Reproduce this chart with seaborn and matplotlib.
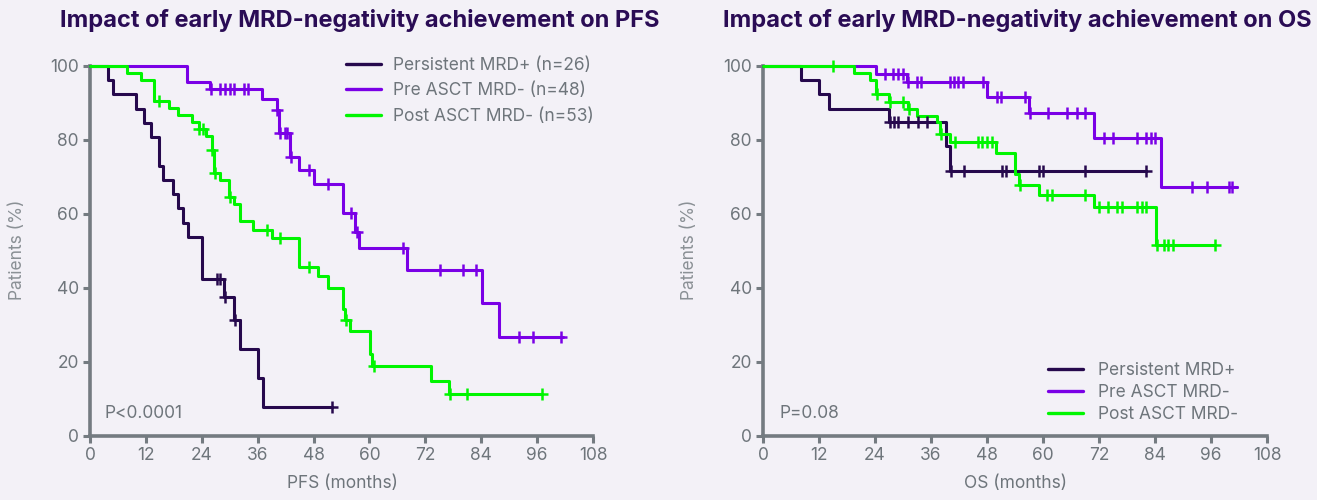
import numpy as np
import pandas as pd
import matplotlib
matplotlib.use("Agg")
import matplotlib.pyplot as plt
from matplotlib.lines import Line2D
import seaborn as sns

# ---------------- data ----------------
groups = ["Persistent MRD+", "Pre ASCT MRD-", "Post ASCT MRD-"]
pfs_legend = ["Persistent MRD+ (n=26)", "Pre ASCT MRD- (n=48)", "Post ASCT MRD- (n=53)"]

# PFS
pfs_dark_t = [0, 3.9, 4.9, 9.9, 11.7, 13.0, 14.9, 15.7, 17.9, 19.0, 20.0, 21.0, 24.1, 28.7, 30.9, 32.1, 36.0, 37.1, 52.0]
pfs_dark_s = [100, 96.2, 92.3, 88.5, 84.6, 80.8, 73.1, 69.2, 65.4, 61.5, 57.7, 53.8, 42.3, 37.6, 31.3, 23.5, 15.7, 7.8, 7.8]
pfs_dark_c = [27.2, 27.9, 28.9, 31.1, 52.0]

pfs_purple_t = [0, 20.9, 25.8, 36.9, 40.1, 40.5, 42.9, 44.9, 48.0, 54.3, 57.0, 57.8, 68.1, 84.1, 87.9, 101.5]
pfs_purple_s = [100, 95.8, 93.8, 91.0, 88.1, 82.0, 75.5, 71.9, 68.0, 60.2, 55.2, 50.9, 45.0, 35.9, 26.8, 26.8]
pfs_purple_c = [26.0, 27.9, 29.0, 30.1, 30.9, 33.1, 33.9, 40.2, 40.8, 41.9, 42.3, 43.1, 47.1, 51.2, 56.0,
                57.3, 67.1, 75.2, 80.0, 82.9, 92.1, 95.1, 101.1]

pfs_green_t = [0, 8.0, 11.0, 13.8, 17.0, 19.0, 21.8, 23.3, 25.0, 26.2, 26.7, 27.9, 29.8, 31.0, 32.2, 35.1, 39.0,
               44.9, 49.0, 51.0, 54.4, 54.8, 55.8, 60.1, 60.6, 73.2, 77.1, 97.0]
pfs_green_s = [100, 98.1, 96.2, 90.6, 88.7, 86.8, 84.9, 83.0, 81.1, 77.2, 71.0, 69.2, 64.7, 62.7, 58.2, 55.7, 53.4,
               45.8, 43.2, 39.9, 34.2, 31.4, 28.5, 22.2, 18.9, 14.9, 11.4, 11.4]
pfs_green_c = [14.9, 23.5, 24.2, 26.3, 26.8, 30.0, 37.9, 40.8, 47.0, 55.0, 61.0, 77.3, 81.0, 97.0]

# OS
os_dark_t = [0, 8.1, 12.1, 14.1, 27.1, 39.2, 40.1, 82.0]
os_dark_s = [100, 96.2, 92.3, 88.5, 84.9, 78.5, 71.7, 71.7]
os_dark_c = [27.3, 28.1, 29.0, 31.1, 33.2, 35.1, 40.3, 43.1, 51.2, 52.0, 59.2, 59.9, 69.1, 82.0]

os_purple_t = [0, 24.2, 30.8, 48.1, 57.1, 71.0, 85.2, 101.5]
os_purple_s = [100, 97.9, 95.8, 91.7, 87.2, 80.6, 67.2, 67.2]
os_purple_c = [26.1, 27.9, 28.9, 30.1, 31.0, 32.9, 33.8, 40.1, 40.9, 41.8, 42.9, 47.2, 50.1, 50.9, 56.1, 57.3,
               61.1, 65.2, 67.2, 69.1, 73.1, 75.1, 80.1, 82.0, 83.1, 84.0, 92.0, 95.1, 99.9, 100.6]

os_green_t = [0, 19.4, 22.9, 24.2, 27.1, 31.0, 32.9, 37.2, 37.9, 40.1, 49.9, 54.1, 54.9, 59.1, 70.9, 84.2, 96.9]
os_green_s = [100, 98.1, 96.2, 92.5, 90.4, 88.3, 86.6, 84.9, 81.5, 79.4, 76.6, 70.8, 67.8, 65.1, 61.8, 51.6, 51.6]
os_green_c = [15.1, 24.4, 27.3, 30.0, 31.2, 38.1, 41.1, 46.1, 47.0, 47.9, 49.0, 55.1, 60.9, 62.0, 69.1, 72.1,
              74.0, 75.9, 77.0, 80.1, 81.2, 82.0, 84.4, 85.9, 86.8, 87.9, 96.9]

x_ticks = [0, 12, 24, 36, 48, 60, 72, 84, 96, 108]
y_ticks = [0, 20, 40, 60, 80, 100]

# ---------------- style ----------------
BG = "#f3f1f7"
DARK = "#26094d"
PURPLE = "#7a00e6"
GREEN = "#00f500"
AX = "#747b81"
TXT = "#6e757b"
colors = [DARK, PURPLE, GREEN]

sns.set_theme(style="white")
plt.rcParams["font.family"] = ["Inter", "DejaVu Sans"]

fig = plt.figure(figsize=(13.17, 5), dpi=100, facecolor=BG)
W, H = 1317, 500
ax1 = fig.add_axes([90 / W, 64 / H, 503 / W, 370 / H])
ax2 = fig.add_axes([763 / W, 64 / H, 504 / W, 370 / H])


def step_y(t, s, c):
    t = np.asarray(t); s = np.asarray(s)
    idx = np.searchsorted(t, np.asarray(c), side="right") - 1
    return s[idx]


def draw(ax, series):
    for (t, s, c), col in zip(series, colors):
        df = pd.DataFrame({"t": t, "s": s})
        sns.lineplot(data=df, x="t", y="s", ax=ax, color=col, lw=2.2, drawstyle="steps-post",
                     clip_on=False, zorder=3, legend=False)
        cd = pd.DataFrame({"t": c, "s": step_y(t, s, c)})
        sns.scatterplot(data=cd, x="t", y="s", ax=ax, color=col, marker="+", s=65,
                        linewidth=1.8, clip_on=False, zorder=4, legend=False)
    ax.set_facecolor(BG)
    ax.set_xlim(0, 108)
    ax.set_ylim(0, 100)
    ax.set_xticks(x_ticks)
    ax.set_yticks(y_ticks)
    ax.set_xlabel("")
    ax.set_ylabel("")
    for sp in ["top", "right"]:
        ax.spines[sp].set_visible(False)
    for sp in ["left", "bottom"]:
        ax.spines[sp].set_color(AX)
        ax.spines[sp].set_linewidth(2.6)
    ax.tick_params(axis="both", colors=AX, length=5, width=2.2, direction="out",
                   labelsize=12.5, labelcolor=TXT, pad=3, left=True, bottom=True)


draw(ax1, [(pfs_dark_t, pfs_dark_s, pfs_dark_c),
           (pfs_purple_t, pfs_purple_s, pfs_purple_c),
           (pfs_green_t, pfs_green_s, pfs_green_c)])
draw(ax2, [(os_dark_t, os_dark_s, os_dark_c),
           (os_purple_t, os_purple_s, os_purple_c),
           (os_green_t, os_green_s, os_green_c)])

handles = [Line2D([0], [0], color=c, lw=2.4) for c in colors]
leg1 = fig.legend(handles, pfs_legend, loc="upper left", bbox_to_anchor=(346 / W, 1 - 57 / H),
                  frameon=False, fontsize=12.5, handlelength=2.0, handletextpad=0.7,
                  labelspacing=0.48, borderpad=0, borderaxespad=0)
for t in leg1.get_texts():
    t.set_color(TXT)
leg2 = fig.legend(handles, groups, loc="upper left", bbox_to_anchor=(1048 / W, 1 - 362 / H),
                  frameon=False, fontsize=12.5, handlelength=2.0, handletextpad=0.9,
                  labelspacing=0.3, borderpad=0, borderaxespad=0)
for t in leg2.get_texts():
    t.set_color(TXT)

ax1.text(3.2, 6.2, "P<0.0001", color=TXT, fontsize=12.5, va="center", ha="left")
ax2.text(3.6, 6.2, "P=0.08", color=TXT, fontsize=12.5, va="center", ha="left")

fig.text(360 / W, 1 - 20 / H, "Impact of early MRD-negativity achievement on PFS", color="#2a0c55",
         fontsize=17, fontweight="bold", ha="center", va="center")
fig.text(1017 / W, 1 - 20 / H, "Impact of early MRD-negativity achievement on OS", color="#2a0c55",
         fontsize=17, fontweight="bold", ha="center", va="center")

fig.text(18 / W, 1 - 250 / H, "Patients (%)", color="#8a9095", fontsize=12.5, rotation=90,
         ha="center", va="center")
fig.text(690 / W, 1 - 250 / H, "Patients (%)", color="#8a9095", fontsize=12.5, rotation=90,
         ha="center", va="center")
fig.text(342 / W, 1 - 483 / H, "PFS (months)", color=TXT, fontsize=12.5, ha="center", va="center")
fig.text(1015 / W, 1 - 483 / H, "OS (months)", color=TXT, fontsize=12.5, ha="center", va="center")

fig.savefig("out.png", dpi=100, facecolor=BG)
